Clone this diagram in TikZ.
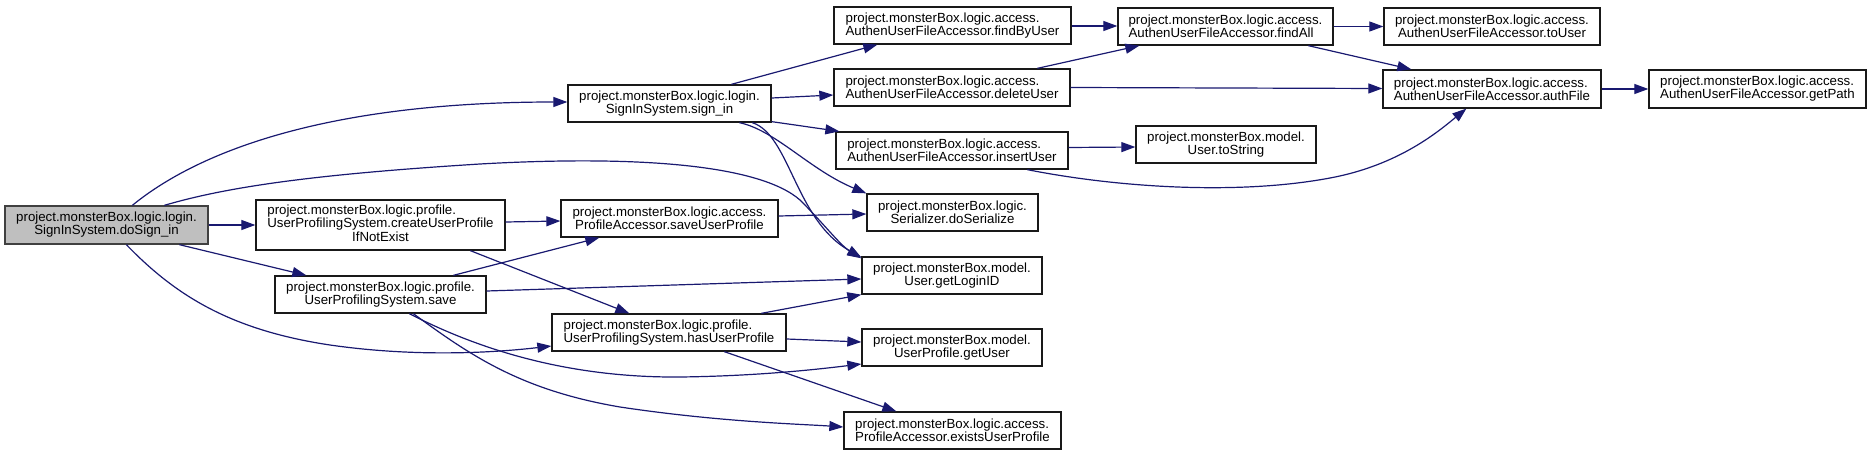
\documentclass[tikz,border=0pt]{standalone}
\usepackage{fontspec}
\setmainfont{Liberation Sans}
\usetikzlibrary{arrows.meta,calc}
\definecolor{edgec}{HTML}{191970}
\definecolor{boxgray}{HTML}{BFBFBF}
\begin{document}
\begin{tikzpicture}[x=1pt,y=-1pt,
  box/.style={draw=black!90, line width=1.3pt, fill=white, inner sep=0pt,
    font=\fontsize{13.26}{13}\selectfont, text=black, align=center},
  lbox/.style={box, align=left},
  edge/.style={draw=edgec, line width=1.2pt, -{Triangle[length=14pt,width=10pt]}}]
\useasboundingbox (0,0) rectangle (1872,455);

% column 0
\node[box, draw=black!75, fill=boxgray, minimum width=203pt, minimum height=38pt] (dosign) at (106.5,225)
  {project.monsterBox.logic.login.\\SignInSystem.doSign\_in};
% column 1
\node[box, minimum width=249pt, minimum height=50pt] (create) at (380.5,225)
  {\begin{tabular}{@{}l@{}}project.monsterBox.logic.profile.\\UserProfilingSystem.createUserProfile\\\multicolumn{1}{@{}c@{}}{IfNotExist}\end{tabular}};
\node[box, minimum width=211pt, minimum height=37pt] (save) at (380.5,294.5)
  {project.monsterBox.logic.profile.\\UserProfilingSystem.save};
% column 2
\node[box, minimum width=203pt, minimum height=37pt] (signin) at (669.5,103.5)
  {project.monsterBox.logic.login.\\SignInSystem.sign\_in};
\node[box, minimum width=217pt, minimum height=37pt] (saveup) at (669.5,218.5)
  {project.monsterBox.logic.access.\\ProfileAccessor.saveUserProfile};
\node[lbox, minimum width=234pt, minimum height=37pt] (hasup) at (669,332.5)
  {project.monsterBox.logic.profile.\\UserProfilingSystem.hasUserProfile};
% column 3
\node[lbox, minimum width=237pt, minimum height=37pt] (findby) at (952.5,25.5)
  {project.monsterBox.logic.access.\\AuthenUserFileAccessor.findByUser};
\node[lbox, minimum width=236pt, minimum height=37pt] (delete) at (952,87.5)
  {project.monsterBox.logic.access.\\AuthenUserFileAccessor.deleteUser};
\node[lbox, minimum width=232pt, minimum height=37pt] (insert) at (952,150.5)
  {project.monsterBox.logic.access.\\AuthenUserFileAccessor.insertUser};
\node[box, minimum width=171pt, minimum height=37pt] (serial) at (952.5,212.5)
  {project.monsterBox.logic.\\Serializer.doSerialize};
\node[box, minimum width=180pt, minimum height=37pt] (getlogin) at (952,275.5)
  {project.monsterBox.model.\\User.getLoginID};
\node[box, minimum width=180pt, minimum height=37pt] (getuser) at (952,347.5)
  {project.monsterBox.model.\\UserProfile.getUser};
\node[lbox, minimum width=217pt, minimum height=37pt] (exists) at (952.5,430.5)
  {project.monsterBox.logic.access.\\ProfileAccessor.existsUserProfile};
% column 4
\node[lbox, minimum width=215pt, minimum height=37pt] (findall) at (1225.5,26.5)
  {project.monsterBox.logic.access.\\AuthenUserFileAccessor.findAll};
\node[box, minimum width=180pt, minimum height=37pt] (tostring) at (1226,144.5)
  {project.monsterBox.model.\\User.toString};
% column 5
\node[box, minimum width=216pt, minimum height=37pt] (touser) at (1492,26.5)
  {project.monsterBox.logic.access.\\AuthenUserFileAccessor.toUser};
\node[lbox, minimum width=218pt, minimum height=38pt] (authfile) at (1492,89)
  {project.monsterBox.logic.access.\\AuthenUserFileAccessor.authFile};
% column 6
\node[lbox, minimum width=217pt, minimum height=38pt] (getpath) at (1757.5,89)
  {project.monsterBox.logic.access.\\AuthenUserFileAccessor.getPath};

% edges from doSign_in
\draw[edge] ($(dosign.north west)+(128,0)$) .. controls (200,150) and (330,102) .. ($(signin.west)+(0,-1.5)$);
\draw[edge] ($(dosign.north west)+(160,0)$) .. controls (230,186) and (320,174) .. (480,164)
  .. controls (640,155) and (760,165) .. (800,200)
  .. controls (825,225) and (840,245) .. ($(getlogin.north west)+(0,2)$);
\draw[edge] (dosign.east) -- (create.west);
\draw[edge] ($(dosign.south west)+(175,0)$) -- ($(save.north west)+(32,0)$);
\draw[edge] ($(dosign.south west)+(122,0)$) .. controls (175,295) and (230,330) .. (330,345)
  .. controls (420,358) and (500,352) .. ($(hasup.west)+(0,13.5)$);
% edges from createUserProfileIfNotExist
\draw[edge] ($(create.east)+(0,-3)$) -- ($(saveup.west)+(0,2.5)$);
\draw[edge] ($(create.south west)+(215,0)$) -- ($(hasup.north west)+(78,0)$);
% edges from save
\draw[edge] ($(save.north west)+(179,0)$) -- ($(saveup.south west)+(39,0)$);
\draw[edge] ($(save.east)+(0,-3.5)$) -- ($(getlogin.west)+(0,3.5)$);
\draw[edge] ($(save.south west)+(135,0)$) .. controls (470,345) and (560,378) .. (680,377)
  .. controls (760,376) and (820,369) .. ($(getuser.west)+(0,16.5)$);
\draw[edge] ($(save.south west)+(139,0)$) .. controls (470,355) and (520,390) .. (620,407)
  .. controls (720,422) and (800,424) .. ($(exists.west)+(0,-3.5)$);
% edges from sign_in
\draw[edge] ($(signin.north west)+(164,0)$) -- ($(findby.south west)+(44,0)$);
\draw[edge] ($(signin.east)+(0,-5.5)$) -- ($(delete.west)+(0,7.5)$);
\draw[edge] ($(signin.south east)+(0,-1)$) -- ($(insert.north west)+(4,0)$);
\draw[edge] ($(signin.south west)+(172,0)$) .. controls (775,130) and (810,170) .. (serial.north west);
\draw[edge] ($(signin.south west)+(185,0)$) .. controls (790,135) and (795,220) .. ($(getlogin.north west)+(0,1)$);
% edges from saveUserProfile
\draw[edge] ($(saveup.east)+(0,-2.5)$) -- ($(serial.west)+(0,1.5)$);
% edges from hasUserProfile
\draw[edge] ($(hasup.north west)+(210,0)$) -- (getlogin.south west);
\draw[edge] ($(hasup.east)+(0,6.5)$) -- ($(getuser.west)+(0,-5.5)$);
\draw[edge] ($(hasup.south west)+(173,0)$) -- ($(exists.north west)+(53,0)$);
% edges from access nodes
\draw[edge] ($(findby.east)+(0,0.5)$) -- ($(findall.west)+(0,-0.5)$);
\draw[edge] ($(delete.north west)+(204,0)$) -- ($(findall.south west)+(22,0)$);
\draw[edge] (delete.east) -- ($(authfile.west)+(0,-0.5)$);
\draw[edge] ($(insert.east)+(0,-3)$) -- ($(tostring.west)+(0,2.5)$);
\draw[edge] ($(insert.south west)+(192,0)$) .. controls (1120,188) and (1240,195) .. (1330,178)
  .. controls (1400,165) and (1440,130) .. ($(authfile.south west)+(84,0)$);
\draw[edge] (findall.east) -- (touser.west);
\draw[edge] ($(findall.south west)+(191,0)$) -- ($(authfile.north west)+(29,0)$);
\draw[edge] (authfile.east) -- (getpath.west);
\end{tikzpicture}
\end{document}
